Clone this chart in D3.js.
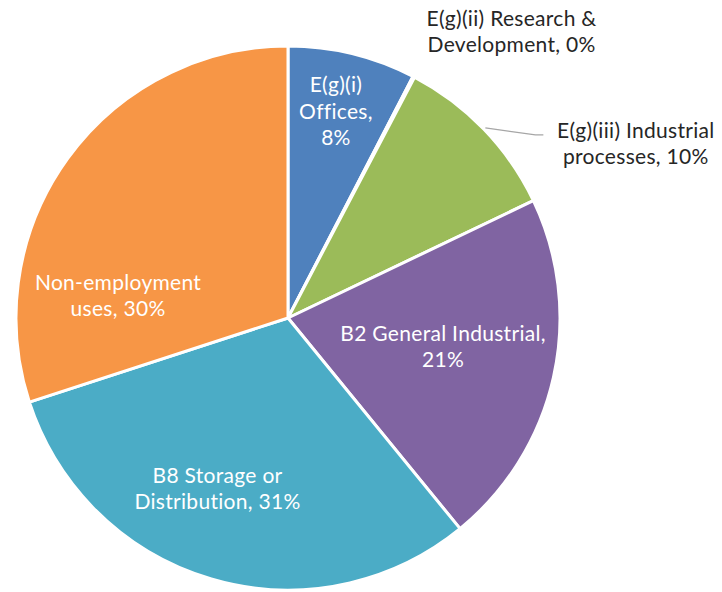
<!DOCTYPE html>
<meta charset="utf-8">
<style>
  body { margin: 0; background: #fff; }
  .lbl { font-family: 'Lato', sans-serif; font-size: 21px; letter-spacing: 0.3px; }
  .inside { fill: #fff; }
  .outside { fill: #262626; }
</style>
<body>
<script src="https://d3js.org/d3.v7.min.js"></script>
<script>

// slice data, clockwise from 12 o'clock
var categories = ["E(g)(i) Offices", "E(g)(ii) Research & Development", "E(g)(iii) Industrial processes",
                  "B2 General Industrial", "B8 Storage or Distribution", "Non-employment uses"];
var values = [7.6, 0.1, 10.2, 21.2, 30.9, 30.0];
var labelLines = [
  ["E(g)(i)", "Offices,", "8%"],
  ["E(g)(ii) Research &", "Development, 0%"],
  ["E(g)(iii) Industrial", "processes, 10%"],
  ["B2 General Industrial,", "21%"],
  ["B8 Storage or", "Distribution, 31%"],
  ["Non-employment", "uses, 30%"]
];
var colors = ["#4f81bd", "#c0504d", "#9bbb59", "#8064a2", "#4bacc6", "#f79646"];

var width = 722,
    height = 592,
    cx = 288, cy = 318,
    radius = 272;

// label placement: [angle in degrees clockwise from top, radius factor]
var labelPolar = [[13.1, 0.778], [38.0, 1.335], [63.4, 1.43], [100.6, 0.58], [202.4, 0.68], [277.3, 0.63]];
var outside = [false, true, true, false, false, false];

var svg = d3.select("body").append("svg")
    .attr("width", width)
    .attr("height", height);

var g = svg.append("g").attr("transform", "translate(" + cx + "," + cy + ")");

var pie = d3.pie().sort(null).value(d => d);
var arc = d3.arc().innerRadius(0).outerRadius(radius);
var arcs = pie(values);

g.selectAll("path.slice")
    .data(arcs)
  .enter().append("path")
    .attr("class", "slice")
    .attr("d", arc)
    .attr("fill", (d, i) => colors[i])
    .attr("stroke", "#fff")
    .attr("stroke-width", 3)
    .attr("stroke-linejoin", "round");

function polar(a, r) {
  var t = a * Math.PI / 180;
  return [Math.sin(t) * r, -Math.cos(t) * r];
}

// leader line for industrial processes
var ind = arcs[2];
var mid = (ind.startAngle + ind.endAngle) / 2;
var p0 = [Math.sin(mid) * (radius + 2), -Math.cos(mid) * (radius + 2)];
var p1 = [p0[0] + 50, p0[1] + 7];
g.append("polyline")
    .attr("points", [p0, p1, [p1[0] + 8, p1[1]]].map(p => p.join(",")).join(" "))
    .attr("fill", "none")
    .attr("stroke", "#a6a6a6")
    .attr("stroke-width", 1.2);

var lineH = 26.5;
labelLines.forEach(function(lines, i) {
  var p = polar(labelPolar[i][0], labelPolar[i][1] * radius);
  var t = g.append("text")
      .attr("class", "lbl " + (outside[i] ? "outside" : "inside"))
      .attr("text-anchor", "middle");
  lines.forEach(function(s, k) {
    t.append("tspan")
      .attr("x", p[0])
      .attr("y", p[1] + (k - (lines.length - 1) / 2) * lineH + 7)
      .text(s);
  });
});

</script>
</body>
